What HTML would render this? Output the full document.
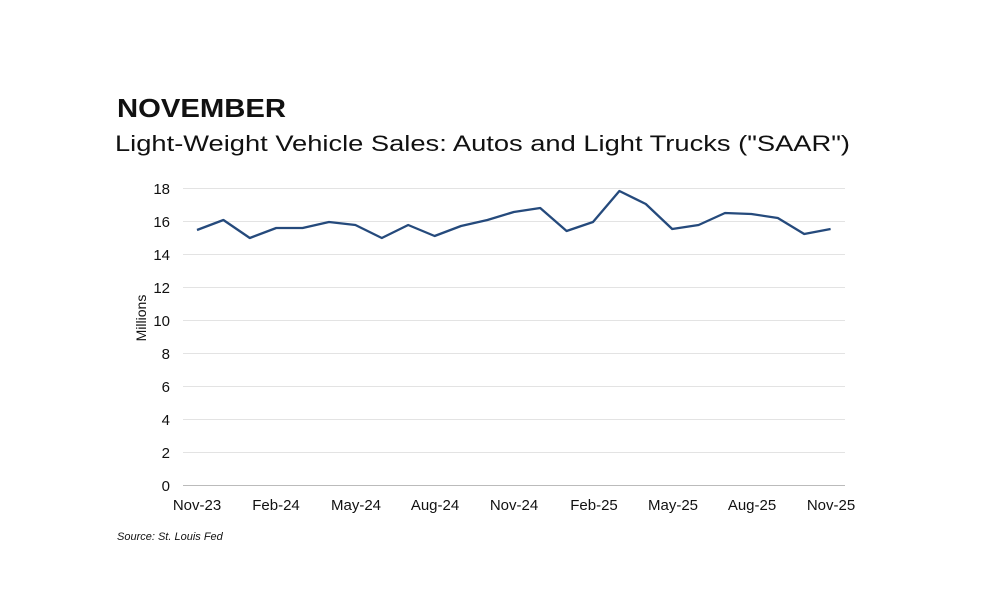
<!DOCTYPE html>
<html><head><meta charset="utf-8"><style>
body{margin:0;background:#fff;}
svg text{font-family:"Liberation Sans",Arial,sans-serif;}
</style></head><body>
<svg width="1000" height="609" viewBox="0 0 1000 609" xmlns="http://www.w3.org/2000/svg">
<rect width="1000" height="609" fill="#fff"/>
<text x="117" y="117" font-size="26" font-weight="bold" fill="#111" textLength="169" lengthAdjust="spacingAndGlyphs">NOVEMBER</text>
<text x="115" y="151" font-size="22" fill="#111" textLength="735" lengthAdjust="spacingAndGlyphs">Light-Weight Vehicle Sales: Autos and Light Trucks ("SAAR")</text>
<g stroke="#e3e3e3" stroke-width="1">
<line x1="183" x2="845" y1="188.5" y2="188.5"/><line x1="183" x2="845" y1="221.5" y2="221.5"/>
<line x1="183" x2="845" y1="254.5" y2="254.5"/><line x1="183" x2="845" y1="287.5" y2="287.5"/>
<line x1="183" x2="845" y1="320.5" y2="320.5"/><line x1="183" x2="845" y1="353.5" y2="353.5"/>
<line x1="183" x2="845" y1="386.5" y2="386.5"/><line x1="183" x2="845" y1="419.5" y2="419.5"/>
<line x1="183" x2="845" y1="452.5" y2="452.5"/>
</g>
<line x1="183" x2="845" y1="485.5" y2="485.5" stroke="#bbb" stroke-width="1"/>
<g font-size="15" fill="#111" text-anchor="end">
<text x="170" y="194">18</text><text x="170" y="227">16</text><text x="170" y="260">14</text>
<text x="170" y="293">12</text><text x="170" y="326">10</text><text x="170" y="359">8</text>
<text x="170" y="392">6</text><text x="170" y="425">4</text><text x="170" y="458">2</text>
<text x="170" y="491">0</text>
</g>
<text transform="translate(146,318) rotate(-90)" font-size="14" fill="#111" text-anchor="middle">Millions</text>
<g font-size="15" fill="#111" text-anchor="middle">
<text x="197" y="510">Nov-23</text><text x="276" y="510">Feb-24</text><text x="356" y="510">May-24</text>
<text x="435" y="510">Aug-24</text><text x="514" y="510">Nov-24</text><text x="594" y="510">Feb-25</text>
<text x="673" y="510">May-25</text><text x="752" y="510">Aug-25</text><text x="831" y="510">Nov-25</text>
</g>
<polyline fill="none" stroke="#254a7c" stroke-width="2.3" stroke-linejoin="round"
points="197,230 223.4,220 249.8,238 276.2,228 302.6,228 329,222 355.4,225 381.8,238 408.2,225 434.6,236 461,226 487.4,220 513.8,212 540.2,208 566.6,231 593,222 619.4,191 645.8,204 672.2,229 698.6,225 725,213 751.4,214 777.8,218 804.2,234 830.6,229"/>
<text x="117" y="540" font-size="11" font-style="italic" fill="#111">Source: St. Louis Fed</text>
</svg>
</body></html>
